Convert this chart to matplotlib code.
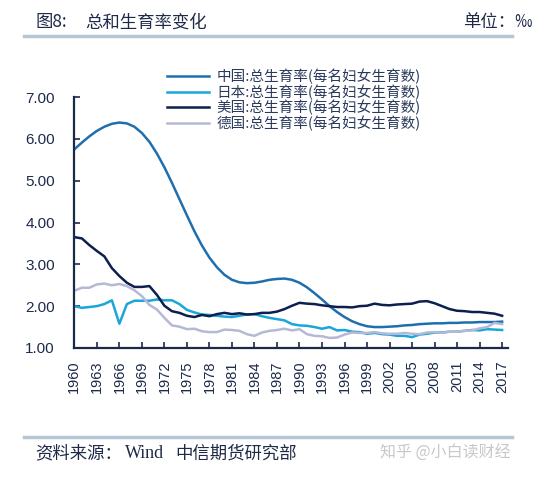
"""
总和生育率变化 (中国/日本/美国/德国, 1960-2017)
"""

import matplotlib
matplotlib.use("Agg")
import matplotlib.pyplot as plt
import numpy as np

plt.rcParams['font.family'] = ['Noto Sans CJK SC', 'DejaVu Sans']

# 数据 (每名妇女生育数)
years = list(range(1960, 2018))

china = [5.75, 5.91, 6.06, 6.19, 6.29, 6.36, 6.39, 6.37, 6.29, 6.14,
         5.93, 5.65, 5.32, 4.95, 4.56, 4.17, 3.79, 3.45, 3.16, 2.93,
         2.75, 2.63, 2.57, 2.55, 2.56, 2.59, 2.63, 2.65, 2.66, 2.63,
         2.56, 2.45, 2.31, 2.16, 2.00, 1.86, 1.74, 1.64, 1.57, 1.52,
         1.50, 1.50, 1.51, 1.52, 1.54, 1.55, 1.57, 1.58, 1.59, 1.59,
         1.60, 1.60, 1.61, 1.61, 1.62, 1.62, 1.62, 1.63]

japan = [2.00, 1.96, 1.98, 2.00, 2.05, 2.14, 1.58, 2.05, 2.13, 2.13,
         2.13, 2.16, 2.14, 2.14, 2.05, 1.91, 1.85, 1.80, 1.79, 1.77,
         1.75, 1.74, 1.77, 1.80, 1.81, 1.76, 1.72, 1.69, 1.66, 1.57,
         1.54, 1.53, 1.50, 1.46, 1.50, 1.42, 1.43, 1.39, 1.38, 1.34,
         1.36, 1.33, 1.32, 1.29, 1.29, 1.26, 1.32, 1.34, 1.37, 1.37,
         1.39, 1.39, 1.41, 1.43, 1.42, 1.45, 1.44, 1.43]

usa = [3.65, 3.62, 3.46, 3.32, 3.19, 2.91, 2.72, 2.56, 2.46, 2.46,
       2.48, 2.27, 2.01, 1.88, 1.84, 1.77, 1.74, 1.79, 1.76, 1.81,
       1.84, 1.81, 1.83, 1.80, 1.81, 1.84, 1.84, 1.87, 1.93, 2.01,
       2.08, 2.06, 2.05, 2.02, 2.00, 1.98, 1.98, 1.97, 2.00, 2.01,
       2.06, 2.03, 2.02, 2.04, 2.05, 2.06, 2.11, 2.12, 2.07, 2.00,
       1.93, 1.89, 1.88, 1.86, 1.86, 1.84, 1.82, 1.77]

germany = [2.37, 2.44, 2.44, 2.52, 2.54, 2.50, 2.53, 2.48, 2.38, 2.24,
           2.03, 1.92, 1.72, 1.54, 1.51, 1.45, 1.46, 1.40, 1.38, 1.38,
           1.44, 1.43, 1.41, 1.33, 1.29, 1.37, 1.41, 1.43, 1.46, 1.42,
           1.45, 1.33, 1.29, 1.28, 1.24, 1.25, 1.32, 1.37, 1.36, 1.36,
           1.38, 1.35, 1.34, 1.34, 1.36, 1.34, 1.33, 1.37, 1.38, 1.36,
           1.39, 1.39, 1.41, 1.42, 1.47, 1.50, 1.60, 1.57]

series = [
    ("中国:总生育率(每名妇女生育数)", china, '#1f6fae'),
    ("日本:总生育率(每名妇女生育数)", japan, '#1ba6da'),
    ("美国:总生育率(每名妇女生育数)", usa, '#0c1f4e'),
    ("德国:总生育率(每名妇女生育数)", germany, '#b5b9d6'),
]

TEXT = '#1c2a4a'
RULE = '#b7c6d5'

fig = plt.figure(figsize=(5.59, 4.78), dpi=100)
ax = fig.add_axes([0.133, 0.272, 0.776, 0.525])

for label, vals, color in series:
    ax.plot(years, vals, color=color, linewidth=1.8, label=label)

ax.set_xlim(1960, 2017.8)
ax.set_ylim(1.0, 7.0)
ax.set_yticks(np.arange(1, 8, 1))
ax.set_yticklabels([f"{v:.2f}" for v in range(1, 8)], fontsize=11, color=TEXT,
                   family=['Liberation Sans'])
ax.set_xticks(years[::3])
ax.set_xticklabels([str(y) for y in years[::3]], rotation=90, fontsize=10.5,
                   color=TEXT, family=['Liberation Sans'])
ax.tick_params(axis='both', direction='in', length=4, width=1.2, colors=TEXT)
ax.tick_params(axis='y', pad=14)
ax.tick_params(axis='x', pad=9)

for side in ('top', 'right'):
    ax.spines[side].set_visible(False)
for side in ('left', 'bottom'):
    ax.spines[side].set_color(TEXT)
    ax.spines[side].set_linewidth(1.6)

leg = ax.legend(loc='upper left', bbox_to_anchor=(0.2, 1.135), frameon=False,
                fontsize=10.5, handlelength=2.9, handletextpad=0.5,
                labelspacing=0.0, borderaxespad=0)
for t in leg.get_texts():
    t.set_color('#2a3a5c')

# 页眉与页脚
HEAD = '#1f2a48'
fig.text(0.063, 0.953, "图8:", fontsize=12.5, color=HEAD, ha='left', va='center')
fig.text(0.152, 0.953, "总和生育率变化", fontsize=12.5, color=HEAD,
         ha='left', va='center')
fig.text(0.89, 0.953, "单位：‰", fontsize=12.5, color=HEAD,
         ha='center', va='center')
fig.add_artist(plt.Line2D([0.043, 0.916], [0.924, 0.924], color=RULE,
                          linewidth=2.5, transform=fig.transFigure))
fig.add_artist(plt.Line2D([0.043, 0.916], [0.085, 0.085], color=RULE,
                          linewidth=2.5, transform=fig.transFigure))
fig.text(0.063, 0.052, "资料来源：", fontsize=12.5, color=HEAD,
         ha='left', va='center')
fig.text(0.224, 0.052, "Wind", fontsize=13, color=HEAD, ha='left',
         va='center', family=['Liberation Serif'])
fig.text(0.313, 0.052, "中信期货研究部", fontsize=12.5, color=HEAD,
         ha='left', va='center')
fig.text(0.913, 0.052, "知乎 @小白读财经", fontsize=11.5, color='#c8c8c8',
         ha='right', va='center')

fig.savefig("out.png", dpi=100)
